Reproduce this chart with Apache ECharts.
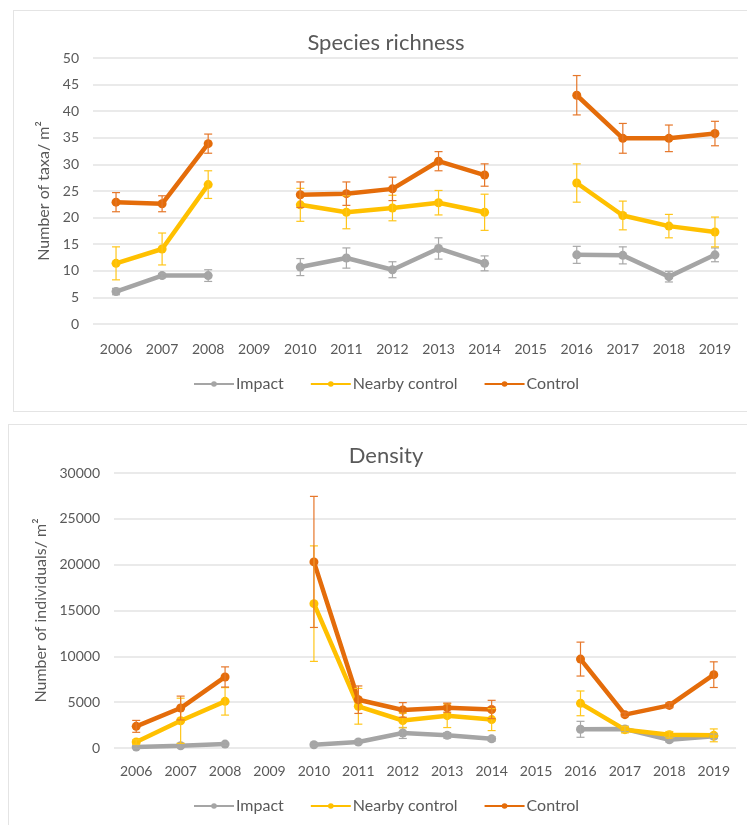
<!DOCTYPE html>
<html>
<head>
<meta charset="utf-8">
<script src="https://cdn.jsdelivr.net/npm/echarts@6/dist/echarts.min.js"></script>
<style>
  html, body { margin: 0; padding: 0; background: #fff; width: 747px; height: 825px; overflow: hidden; }
  .panel { position: absolute; border: 1.5px solid #e4e4e4; background: #fff; box-sizing: border-box; }
  #richness { left: 13px; top: 10px; width: 750px; height: 402px; }
  #density { left: 8px; top: 424px; width: 755px; height: 410px; }
</style>
</head>
<body>
<div id="richness" class="panel"></div>
<div id="density" class="panel"></div>
<script>
// Survey years (2009 and 2015 not sampled)
const years = ['2006','2007','2008','2009','2010','2011','2012','2013','2014','2015','2016','2017','2018','2019'];
const seriesNames = ['Impact', 'Nearby control', 'Control'];

// Species richness (taxa per m²): means and standard errors
const richImpact    = [6.1, 9.1, 9.1, null, 10.7, 12.4, 10.2, 14.2, 11.4, null, 13.0, 12.9, 8.9, 13.0];
const richImpactErr = [0.6, 0.4, 1.1, null, 1.6, 1.9, 1.5, 2.0, 1.4, null, 1.6, 1.6, 1.0, 1.3];
const richNearby    = [11.4, 14.1, 26.2, null, 22.4, 21.0, 21.8, 22.8, 21.0, null, 26.5, 20.4, 18.4, 17.3];
const richNearbyErr = [3.1, 3.0, 2.6, null, 3.1, 3.1, 2.4, 2.3, 3.4, null, 3.6, 2.7, 2.2, 2.8];
const richControl   = [22.9, 22.6, 33.9, null, 24.3, 24.5, 25.4, 30.6, 28.0, null, 43.0, 34.9, 34.9, 35.8];
const richControlErr= [1.8, 1.5, 1.8, null, 2.4, 2.2, 2.2, 1.8, 2.1, null, 3.7, 2.8, 2.5, 2.3];

// Density (individuals per m²): means and standard errors
const densImpact    = [100, 250, 430, null, 360, 650, 1640, 1380, 1000, null, 2040, 2070, 900, 1270];
const densImpactErr = [150, 150, 150, null, 150, 200, 600, 300, 250, null, 870, 300, 250, 250];
const densNearby    = [650, 2970, 5090, null, 15750, 4550, 3000, 3530, 3100, null, 4870, 2000, 1450, 1380];
const densNearbyErr = [250, 2460, 1500, null, 6300, 1950, 800, 1300, 1200, null, 1350, 350, 350, 700];
const densControl   = [2360, 4360, 7750, null, 20300, 5270, 4150, 4400, 4200, null, 9700, 3640, 4650, 8000];
const densControlErr= [650, 1300, 1100, null, 7150, 1500, 800, 500, 1000, null, 1850, 200, 250, 1400];

const colors = ['#A5A5A5', '#FFC000', '#E46C0A'];
const errColors = ['#A8A8A8', '#FFC61A', '#E6772A'];
const FONT = 'Lato, "Open Sans", sans-serif';
const TEXT = '#595959';

function errorSeries(name, values, errs, color) {
  const data = [];
  values.forEach((v, i) => {
    if (v != null) data.push([i, v - errs[i], v + errs[i]]);
  });
  return {
    type: 'custom',
    name: name,
    z: 4,
    silent: true,
    renderItem: function (params, api) {
      const x = api.value(0);
      const lo = api.coord([x, api.value(1)]);
      const hi = api.coord([x, api.value(2)]);
      const cap = 4;
      const style = { stroke: color, lineWidth: 1.2, fill: null };
      return {
        type: 'group',
        children: [
          { type: 'line', shape: { x1: lo[0], y1: lo[1], x2: hi[0], y2: hi[1] }, style },
          { type: 'line', shape: { x1: lo[0] - cap, y1: lo[1], x2: lo[0] + cap, y2: lo[1] }, style },
          { type: 'line', shape: { x1: hi[0] - cap, y1: hi[1], x2: hi[0] + cap, y2: hi[1] }, style }
        ]
      };
    },
    encode: { x: 0, y: [1, 2] },
    data: data
  };
}

function lineSeries(name, values, color) {
  return {
    type: 'line',
    name: name,
    data: values,
    connectNulls: false,
    symbol: 'circle',
    symbolSize: 9,
    z: 3,
    itemStyle: { color: color },
    lineStyle: { color: color, width: 4.5 },
    emphasis: { disabled: true }
  };
}

function buildOption(cfg) {
  return {
    animation: false,
    textStyle: { fontFamily: FONT },
    title: {
      text: cfg.title,
      left: cfg.titleX,
      top: cfg.titleTop,
      textAlign: 'center',
      textStyle: { fontFamily: FONT, fontSize: 22, fontWeight: 'normal', color: TEXT }
    },
    legend: {
      data: seriesNames,
      top: cfg.legendTop,
      left: cfg.legendLeft,
      itemWidth: 40,
      itemHeight: 7,
      itemGap: 26,
      textStyle: { fontFamily: FONT, fontSize: 16, color: TEXT, padding: [0, 0, 0, -3] }
    },
    grid: { left: cfg.gridLeft, top: cfg.gridTop, width: cfg.gridWidth, height: cfg.gridHeight },
    xAxis: {
      type: 'category',
      data: years,
      boundaryGap: true,
      axisLine: { show: false },
      axisTick: { show: false },
      axisLabel: { fontFamily: FONT, fontSize: 14, color: TEXT, margin: cfg.xMargin, interval: 0 }
    },
    yAxis: {
      type: 'value',
      min: 0,
      max: cfg.yMax,
      interval: cfg.yStep,
      name: cfg.yName,
      nameLocation: 'middle',
      nameGap: cfg.nameGap,
      nameTextStyle: { fontFamily: FONT, fontSize: 16, color: TEXT },
      axisLine: { show: false },
      axisTick: { show: false },
      axisLabel: { fontFamily: FONT, fontSize: 14, color: TEXT, margin: 14, formatter: v => String(v) },
      splitLine: { lineStyle: { color: '#E3E3E3', width: 1.5 } }
    },
    series: [
      lineSeries(seriesNames[0], cfg.vals[0], colors[0]),
      lineSeries(seriesNames[1], cfg.vals[1], colors[1]),
      lineSeries(seriesNames[2], cfg.vals[2], colors[2]),
      errorSeries(seriesNames[0], cfg.vals[0], cfg.errs[0], errColors[0]),
      errorSeries(seriesNames[1], cfg.vals[1], cfg.errs[1], errColors[1]),
      errorSeries(seriesNames[2], cfg.vals[2], cfg.errs[2], errColors[2])
    ]
  };
}

const richChart = echarts.init(document.getElementById('richness'), null, { renderer: 'canvas' });
richChart.setOption(buildOption({
  title: 'Species richness',
  titleX: 367, titleTop: 16,
  legendTop: 360, legendLeft: 174,
  gridLeft: 79, gridTop: 47, gridWidth: 645, gridHeight: 266,
  xMargin: 18,
  yMax: 50, yStep: 5,
  yName: 'Number of taxa/ m²', nameGap: 36,
  vals: [richImpact, richNearby, richControl],
  errs: [richImpactErr, richNearbyErr, richControlErr]
}));

const densChart = echarts.init(document.getElementById('density'), null, { renderer: 'canvas' });
densChart.setOption(buildOption({
  title: 'Density',
  titleX: 372, titleTop: 15,
  legendTop: 368, legendLeft: 179,
  gridLeft: 105, gridTop: 48, gridWidth: 622, gridHeight: 275,
  xMargin: 16,
  yMax: 30000, yStep: 5000,
  yName: 'Number of individuals/ m²', nameGap: 58,
  vals: [densImpact, densNearby, densControl],
  errs: [densImpactErr, densNearbyErr, densControlErr]
}));
</script>
</body>
</html>
